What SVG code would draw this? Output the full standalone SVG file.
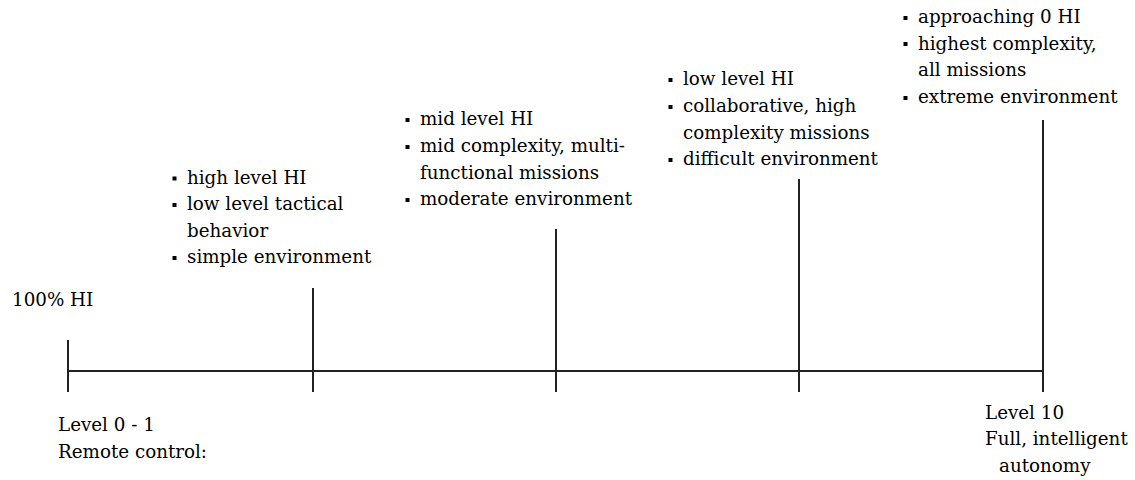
<svg xmlns="http://www.w3.org/2000/svg" width="1135" height="480" viewBox="0 0 1135 480">
<style>
text{font-family:"DejaVu Serif","Liberation Serif",serif;font-size:18.3px;fill:#000}
.ln{stroke:#222;stroke-width:2;fill:none}
.b{fill:#000}
</style>
<rect width="1135" height="480" fill="#fff"/>
<g id="connectors">
<line class="ln" x1="68" y1="371" x2="1043" y2="371"/>
<line class="ln" x1="68" y1="340" x2="68" y2="392"/>
<line class="ln" x1="313" y1="288" x2="313" y2="392"/>
<line class="ln" x1="556" y1="229" x2="556" y2="392"/>
<line class="ln" x1="799" y1="179" x2="799" y2="392"/>
<line class="ln" x1="1043" y1="120" x2="1043" y2="392"/>
</g>
<g id="start">
<text x="12" y="306">100% HI</text>
<text x="58" y="431">Level 0 - 1</text>
<text x="58" y="458">Remote control:</text>
</g>
<g id="end">
<text x="985" y="419">Level 10</text>
<text x="985" y="445">Full, intelligent</text>
<text x="999" y="471.5">autonomy</text>
</g>
<g id="stage1">
<rect class="b" x="172.5" y="176.5" width="4" height="4"/>
<rect class="b" x="172.5" y="203" width="4" height="4"/>
<rect class="b" x="172.5" y="256" width="4" height="4"/>
<text x="187" y="183.5">high level HI</text>
<text x="187" y="210">low level tactical</text>
<text x="187" y="236.5">behavior</text>
<text x="187" y="263">simple environment</text>
</g>
<g id="stage2">
<rect class="b" x="405.5" y="118" width="4" height="4"/>
<rect class="b" x="405.5" y="145" width="4" height="4"/>
<rect class="b" x="405.5" y="198" width="4" height="4"/>
<text x="420" y="125">mid level HI</text>
<text x="420" y="152">mid complexity, multi-</text>
<text x="420" y="178.5">functional missions</text>
<text x="420" y="205">moderate environment</text>
</g>
<g id="stage3">
<rect class="b" x="668.5" y="78" width="4" height="4"/>
<rect class="b" x="668.5" y="105" width="4" height="4"/>
<rect class="b" x="668.5" y="158" width="4" height="4"/>
<text x="683" y="85">low level HI</text>
<text x="683" y="112">collaborative, high</text>
<text x="683" y="138.5">complexity missions</text>
<text x="683" y="165">difficult environment</text>
</g>
<g id="stage4">
<rect class="b" x="903.5" y="16" width="4" height="4"/>
<rect class="b" x="903.5" y="42" width="4" height="4"/>
<rect class="b" x="903.5" y="96" width="4" height="4"/>
<text x="918" y="23">approaching 0 HI</text>
<text x="918" y="49.5">highest complexity,</text>
<text x="918" y="76">all missions</text>
<text x="918" y="103">extreme environment</text>
</g>
</svg>
